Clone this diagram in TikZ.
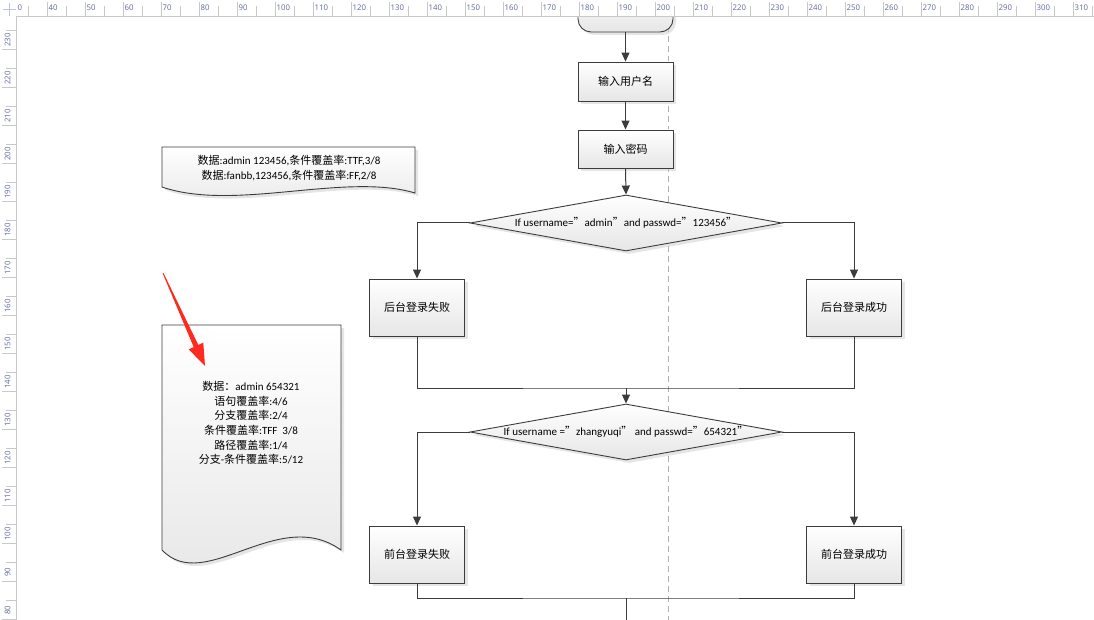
\documentclass[tikz,border=0pt]{standalone}
\usepackage{fontspec}
\setmainfont{Carlito}
\newfontfamily\zhfont{Noto Sans CJK SC}
\newfontfamily\rulerfont{Open Sans}
\usetikzlibrary{shapes.geometric,arrows.meta,shadows}
\newcommand\zh[1]{{\zhfont #1}}
\definecolor{linec}{HTML}{3C3C3C}
\definecolor{rulertext}{RGB}{95,105,150}
\definecolor{rulerline}{HTML}{C8C8C8}
\definecolor{dashc}{HTML}{B0B0B0}
\definecolor{redarrow}{HTML}{FF2A1F}
\definecolor{shadec}{HTML}{E6E6E6}
\tikzset{
  shapebase/.style={draw=linec, line width=0.9pt, top color=white, bottom color=shadec,
    drop shadow={shadow xshift=3pt, shadow yshift=-3pt, fill=gray!40, opacity=0.5}},
  boxstyle/.style={shapebase, rectangle, minimum width=95pt, inner sep=0pt,
    font=\fontsize{11}{13}\selectfont},
  termstyle/.style={shapebase, rectangle, rounded corners=13pt, minimum width=95pt, minimum height=44pt, inner sep=0pt},
  decstyle/.style={shapebase, diamond, minimum width=312pt, minimum height=56pt, aspect=5.5, inner sep=0pt,
    font=\fontsize{11}{13}\selectfont},
  docshape/.style={shapebase},
  doctext/.style={align=center, inner sep=0pt, font=\fontsize{11}{14.6}\selectfont},
  flow/.style={draw=linec, line width=1pt, -{Triangle[width=8pt,length=9pt]}},
  plain/.style={draw=linec, line width=1pt},
  rulerlab/.style={text=rulertext, inner sep=0pt, font=\rulerfont\fontsize{7.8}{8}\selectfont},
  rulertick/.style={draw=rulerline, line width=0.8pt},
}
\begin{document}
\begin{tikzpicture}[x=1pt,y=-1pt]
\useasboundingbox (0,0) rectangle (1094,620);
\begin{scope}
\clip (0,0) rectangle (1094,620);
\fill[white] (0,0) rectangle (1094,620);
% swimlane separator
\draw[dashc, line width=0.8pt, dash pattern=on 6pt off 4pt] (668,16) -- (668,620);

% flowchart nodes
\node[termstyle] (t) at (625.5,10) {};
\node[boxstyle, minimum height=39pt] (b1) at (625.5,81.5) {\zh{输入用户名}};
\node[boxstyle, minimum height=38pt] (b2) at (625.5,149) {\zh{输入密码}};
\node[decstyle] (d1) at (626,223) {If username=\zh{”}admin\zh{”}and passwd=\zh{”}123456\zh{”}};
\node[boxstyle, minimum height=57pt] (f1) at (417,307.5) {\zh{后台登录失败}};
\node[boxstyle, minimum height=57pt] (s1) at (854,307.5) {\zh{后台登录成功}};
\coordinate (j1) at (626,388);
\node[decstyle] (d2) at (626,432) {If username =\zh{”}zhangyuqi\zh{”}\ and passwd=\zh{”}654321\zh{”}};
\node[boxstyle, minimum height=57pt] (f2) at (417,554.5) {\zh{前台登录失败}};
\node[boxstyle, minimum height=57pt] (s2) at (854,554.5) {\zh{前台登录成功}};
\coordinate (j2) at (626,598);
\coordinate (bot) at (626,625);

% connectors
\draw[flow] (t.south) -- (b1.north);
\draw[flow] (b1.south) -- (b2.north);
\draw[flow] (b2.south) -- (d1.north);
\draw[flow] (d1.west) -| (f1.north);
\draw[flow] (d1.east) -| (s1.north);
\draw[plain] (f1.south) |- (j1) -| (s1.south);
\draw[flow] (j1) -- (d2.north);
\draw[flow] (d2.west) -| (f2.north);
\draw[flow] (d2.east) -| (s2.north);
\draw[plain] (f2.south) |- (j2) -| (s2.south);
\draw[plain] (j2) -- (bot);

% document shapes
\path[docshape] (162,147) -- (415,147) -- (415,193)
  .. controls (345,172) and (235,212) .. (162,187) -- cycle;
\node[doctext] (doc1) at (289,168) {\zh{数据}:admin 123456,\zh{条件覆盖率}:TTF,3/8\\
  \zh{数据}:fanbb,123456,\zh{条件覆盖率}:FF,2/8};

\path[docshape] (162,325) -- (341,325) -- (341,550)
  .. controls (278,505) and (205,595) .. (162,550) -- cycle;
\node[doctext] (doc2) at (251,423) {\zh{数据：}admin 654321\\
  \zh{语句覆盖率}:4/6\\
  \zh{分支覆盖率}:2/4\\
  \zh{条件覆盖率}:TFF\ \ 3/8\\
  \zh{路径覆盖率}:1/4\\
  \zh{分支}-\zh{条件覆盖率}:5/12};

% red pointer arrow
\fill[redarrow] (162.6,273.2) -- (163.4,272.8) -- (198.3,344.9) -- (203.3,342.7)
  -- (205,366) -- (188.7,349.3) -- (193.7,347.1) -- cycle;

% rulers
\fill[white] (0,0) rectangle (1094,16);
\fill[white] (0,0) rectangle (16,620);
\draw[rulertick] (16,16) -- (1094,16);
\draw[rulertick] (16,16) -- (16,620);
\draw[blue!25, line width=0.8pt] (3,9) -- (16,9) (9,3) -- (9,16);
\draw[rulertick] (28,6) -- (28,16);
\node[rulerlab, anchor=west] (r0) at (17.5,7.5) {0};
\foreach \k in {0,...,27}{
  \pgfmathsetmacro\xx{47+38*\k}
  \pgfmathtruncatemacro\vv{40+10*\k}
  \draw[rulertick] (\xx,2) -- (\xx,16);
  \draw[rulertick] (\xx+19,6) -- (\xx+19,16);
  \node[rulerlab, anchor=west] (rt\k) at (\xx+1.5,7.5) {\vv};
}
\foreach \k in {0,...,15}{
  \pgfmathsetmacro\yy{40+38*\k}
  \pgfmathtruncatemacro\vv{230-10*\k}
  \draw[rulertick] (2,\yy+9.5) -- (16,\yy+9.5);
  \draw[rulertick] (6,\yy-9.5) -- (16,\yy-9.5);
  \node[rulerlab, rotate=90] (rl\k) at (7.5,\yy) {\vv};
}
\end{scope}
\end{tikzpicture}
\end{document}
